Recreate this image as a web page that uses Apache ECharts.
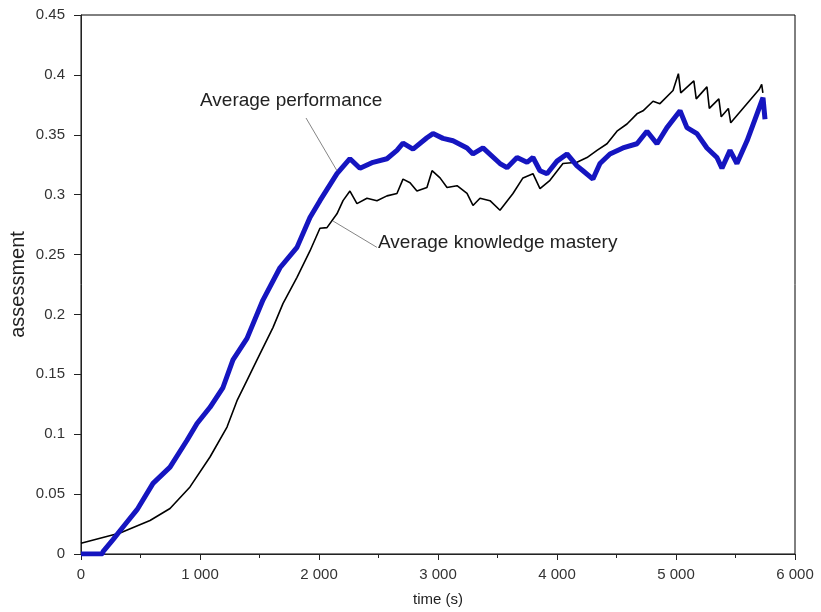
<!DOCTYPE html>
<html>
<head>
<meta charset="utf-8">
<script src="https://cdn.jsdelivr.net/npm/echarts@6/dist/echarts.min.js"></script>
<style>
  html, body { margin: 0; padding: 0; background: #fff; }
  #chart { width: 821px; height: 612px; }
</style>
</head>
<body>
<div id="chart"></div>
<script>
// performance curve (blue, thick)
const perfTime = [0, 180, 185, 269, 353, 471, 605, 748, 891, 975, 1084, 1193, 1277, 1395, 1529, 1672, 1815, 1924, 2008, 2151, 2260, 2344, 2454, 2571, 2655, 2706, 2790, 2907, 2958, 3042, 3126, 3244, 3294, 3378, 3521, 3580, 3664, 3748, 3798, 3857, 3916, 4000, 4084, 4168, 4218, 4302, 4361, 4445, 4554, 4672, 4756, 4840, 4924, 5034, 5092, 5176, 5260, 5344, 5386, 5454, 5512, 5597, 5681, 5731, 5748];
const perfValues = [0, 0, 0.002, 0.012, 0.0225, 0.037, 0.059, 0.0725, 0.095, 0.109, 0.1225, 0.139, 0.162, 0.18, 0.212, 0.239, 0.256, 0.281, 0.295, 0.3175, 0.33, 0.322, 0.327, 0.33, 0.337, 0.343, 0.338, 0.3475, 0.351, 0.347, 0.345, 0.339, 0.334, 0.339, 0.326, 0.3225, 0.331, 0.327, 0.331, 0.32, 0.3175, 0.328, 0.334, 0.324, 0.32, 0.313, 0.326, 0.334, 0.339, 0.3425, 0.353, 0.3425, 0.356, 0.37, 0.356, 0.351, 0.339, 0.331, 0.322, 0.337, 0.326, 0.345, 0.3675, 0.381, 0.363];

// knowledge mastery curve (black, thin)
const masteryTime = [0, 328, 580, 748, 916, 1084, 1227, 1311, 1395, 1479, 1613, 1697, 1815, 1924, 2008, 2067, 2151, 2202, 2260, 2319, 2403, 2487, 2571, 2655, 2706, 2765, 2823, 2907, 2950, 3017, 3076, 3160, 3244, 3294, 3353, 3437, 3521, 3630, 3714, 3798, 3857, 3941, 4050, 4168, 4252, 4336, 4420, 4504, 4588, 4672, 4723, 4807, 4865, 4975, 5020, 5040, 5150, 5170, 5260, 5280, 5360, 5380, 5440, 5460, 5700, 5720, 5730];
const masteryValues = [0.009, 0.0175, 0.028, 0.038, 0.056, 0.081, 0.106, 0.128, 0.145, 0.162, 0.189, 0.209, 0.231, 0.253, 0.272, 0.2725, 0.284, 0.295, 0.303, 0.2925, 0.297, 0.295, 0.299, 0.301, 0.313, 0.31, 0.303, 0.306, 0.32, 0.314, 0.306, 0.3075, 0.301, 0.291, 0.297, 0.295, 0.287, 0.301, 0.314, 0.3175, 0.305, 0.312, 0.326, 0.327, 0.331, 0.337, 0.3425, 0.353, 0.359, 0.3675, 0.37, 0.378, 0.376, 0.387, 0.401, 0.385, 0.395, 0.38, 0.39, 0.372, 0.38, 0.365, 0.372, 0.36, 0.388, 0.392, 0.385];

const zip = (xs, ys) => xs.map((x, i) => [x, ys[i]]);

var chart = echarts.init(document.getElementById('chart'));

const thousands = (v) => {
  if (v < 1000) return String(v);
  return String(v).replace(/\B(?=(\d{3})+(?!\d))/g, ' ');
};

var option = {
  animation: false,
  grid: {
    left: 81,
    right: 26,
    top: 15,
    bottom: 58,
    outerBoundsMode: 'none',
    show: true,
    borderColor: '#000',
    borderWidth: 1
  },
  xAxis: {
    type: 'value',
    min: 0,
    max: 6000,
    interval: 1000,
    name: 'time (s)',
    nameLocation: 'middle',
    nameGap: 38,
    nameTextStyle: { color: '#222', fontSize: 15, fontFamily: 'Liberation Sans' },
    axisLine: { lineStyle: { color: '#222', width: 1 } },
    axisTick: { show: true, inside: false, length: 6, lineStyle: { color: '#222' } },
    minorTick: { show: true, splitNumber: 2, length: 4, lineStyle: { color: '#222' } },
    axisLabel: { color: '#333', fontSize: 15, margin: 13, fontFamily: 'Liberation Sans', formatter: thousands },
    splitLine: { show: false }
  },
  yAxis: {
    type: 'value',
    min: 0,
    max: 0.45,
    interval: 0.05,
    name: 'assessment',
    nameLocation: 'middle',
    nameGap: 53,
    nameMoveOverlap: false,
    nameTextStyle: { color: '#222', fontSize: 20, fontFamily: 'Liberation Sans' },
    axisLine: { show: true, lineStyle: { color: '#222', width: 1 } },
    axisTick: { show: true, inside: false, length: 7, lineStyle: { color: '#222' } },
    axisLabel: {
      color: '#333', fontSize: 15, margin: 16, fontFamily: 'Liberation Sans',
      formatter: (v) => String(parseFloat(v.toFixed(2)))
    },
    splitLine: { show: false }
  },
  graphic: [
    { type: 'text', left: 200, top: 91, style: { text: 'Average performance', fill: '#222', font: '19px "Liberation Sans"' } },
    { type: 'text', left: 378, top: 233, style: { text: 'Average knowledge mastery', fill: '#222', font: '19px "Liberation Sans"' } }
  ],
  series: [
    {
      name: 'Average knowledge mastery',
      type: 'line',
      data: zip(masteryTime, masteryValues),
      showSymbol: false,
      lineStyle: { color: '#000', width: 1.6 },
      z: 2,
      markLine: {
        silent: true,
        symbol: 'none',
        label: { show: false },
        lineStyle: { color: '#666', width: 0.8, type: 'solid' },
        data: [[{ coord: [2118, 0.278] }, { coord: [2487, 0.256] }]]
      }
    },
    {
      name: 'Average performance',
      type: 'line',
      data: zip(perfTime, perfValues),
      showSymbol: false,
      lineStyle: { color: '#1515c0', width: 5 },
      z: 3,
      markLine: {
        silent: true,
        symbol: 'none',
        label: { show: false },
        lineStyle: { color: '#666', width: 0.8, type: 'solid' },
        data: [[{ coord: [1891, 0.364] }, { coord: [2151, 0.32] }]]
      }
    }
  ]
};

chart.setOption(option);
</script>
</body>
</html>
